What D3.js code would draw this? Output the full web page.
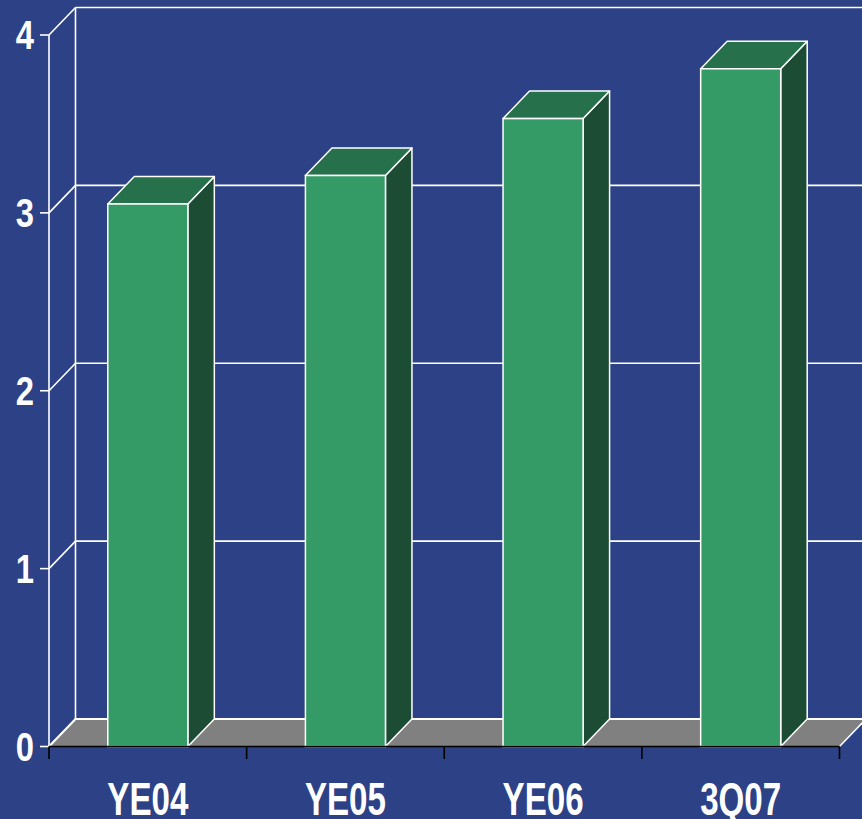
<!DOCTYPE html>
<html>
<head>
<meta charset="utf-8">
<script src="https://cdn.jsdelivr.net/npm/d3@7"></script>
<style>
  html, body { margin: 0; padding: 0; background: #2c4186; }
  svg { display: block; }
</style>
</head>
<body>
<svg id="chart" width="862" height="819"></svg>
<script>
// Data
const categories = ["YE04", "YE05", "YE06", "3Q07"];
const values = [3.05, 3.21, 3.53, 3.81];
const yTicks = [0, 1, 2, 3, 4];

const W = 862, H = 819;
const svg = d3.select("#chart");

// Plot geometry (front plane) and 3D depth offset
const x0 = 49, x1 = 839.5;
const dx = 26.5, dy = -27.5;

const x = d3.scaleBand().domain(categories).range([x0, x1]).paddingInner(0).paddingOuter(0);
const y = d3.scaleLinear().domain([0, 4]).range([746.5, 35]);
const barW = x.bandwidth() * 0.405;

const colors = {
  bg: "#2c4186",
  front: "#349a66",
  top: "#26714c",
  side: "#1d4c34",
  floor: "#808080",
  line: "#ffffff"
};

svg.append("rect").attr("width", W).attr("height", H).attr("fill", colors.bg);

// Back wall: gridlines and left edge
const back = svg.append("g");
yTicks.filter(v => v > 0).forEach(v => {
  back.append("line")
    .attr("x1", x0 + dx).attr("x2", W + 5)
    .attr("y1", y(v) + dy).attr("y2", y(v) + dy)
    .attr("stroke", colors.line).attr("stroke-width", 1.6);
});
back.append("line")
  .attr("x1", x0 + dx).attr("x2", x0 + dx)
  .attr("y1", y(4) + dy).attr("y2", y(0) + dy)
  .attr("stroke", colors.line).attr("stroke-width", 1.6);

// Floor
const fy = y(0);
svg.append("path")
  .attr("d", `M${x0},${fy} L${x1},${fy} L${x1 + dx},${fy + dy} L${x0 + dx},${fy + dy} Z`)
  .attr("fill", colors.floor);
svg.append("path")
  .attr("d", `M${x0},${fy} L${x0 + dx},${fy + dy} L${W + 5},${fy + dy}`)
  .attr("fill", "none").attr("stroke", colors.line).attr("stroke-width", 2);
svg.append("line")
  .attr("x1", x1).attr("y1", fy).attr("x2", x1 + dx).attr("y2", fy + dy)
  .attr("stroke", colors.line).attr("stroke-width", 1.6);

// Left wall: front axis, diagonals to back wall, tick marks
const axisG = svg.append("g");
axisG.append("line")
  .attr("x1", x0).attr("x2", x0)
  .attr("y1", y(4)).attr("y2", y(0))
  .attr("stroke", colors.line).attr("stroke-width", 1.6);
yTicks.forEach(v => {
  axisG.append("line")
    .attr("x1", x0).attr("y1", y(v)).attr("x2", x0 + dx).attr("y2", y(v) + dy)
    .attr("stroke", colors.line).attr("stroke-width", 1.6);
  axisG.append("line")
    .attr("x1", x0 - 9).attr("x2", x0)
    .attr("y1", y(v)).attr("y2", y(v))
    .attr("stroke", colors.line).attr("stroke-width", 1.6);
});

// Bars (front, top, side faces)
const bars = svg.append("g").selectAll("g")
  .data(categories.map((c, i) => ({ c, v: values[i] })))
  .join("g");

bars.each(function(d) {
  const g = d3.select(this);
  const cx = x(d.c) + x.bandwidth() / 2;
  const l = cx - barW / 2, r = cx + barW / 2;
  const t = y(d.v), b = y(0);
  g.append("path")
    .attr("d", `M${r},${t} L${r + dx},${t + dy} L${r + dx},${b + dy} L${r},${b} Z`)
    .attr("fill", colors.side).attr("stroke", colors.line).attr("stroke-width", 1.5)
    .attr("stroke-linejoin", "round");
  g.append("path")
    .attr("d", `M${l},${t} L${l + dx},${t + dy} L${r + dx},${t + dy} L${r},${t} Z`)
    .attr("fill", colors.top).attr("stroke", colors.line).attr("stroke-width", 1.5)
    .attr("stroke-linejoin", "round");
  g.append("rect")
    .attr("x", l).attr("y", t).attr("width", barW).attr("height", b - t)
    .attr("fill", colors.front).attr("stroke", colors.line).attr("stroke-width", 1.5);
});

// Category axis along the front edge of the floor
const xAxis = svg.append("g");
xAxis.append("line")
  .attr("x1", x0).attr("x2", x1).attr("y1", fy).attr("y2", fy)
  .attr("stroke", "#000").attr("stroke-width", 1.6);
const edges = categories.map(c => x(c)).concat([x1]);
edges.forEach(e => {
  xAxis.append("line")
    .attr("x1", e).attr("x2", e).attr("y1", fy).attr("y2", fy + 12.5)
    .attr("stroke", "#000").attr("stroke-width", 1.6);
});

// Labels
const font = "'Liberation Sans', Arial, sans-serif";
yTicks.forEach(v => {
  svg.append("text")
    .attr("transform", `translate(34,${y(v) + 14}) scale(0.82,1)`)
    .attr("text-anchor", "end")
    .attr("font-family", font).attr("font-weight", "bold").attr("font-size", 40)
    .attr("fill", "#fff")
    .text(v);
});
categories.forEach(c => {
  svg.append("text")
    .attr("transform", `translate(${x(c) + x.bandwidth() / 2},815) scale(0.72,1)`)
    .attr("text-anchor", "middle")
    .attr("font-family", font).attr("font-weight", "bold").attr("font-size", 46)
    .attr("fill", "#fff")
    .text(c);
});
</script>
</body>
</html>
